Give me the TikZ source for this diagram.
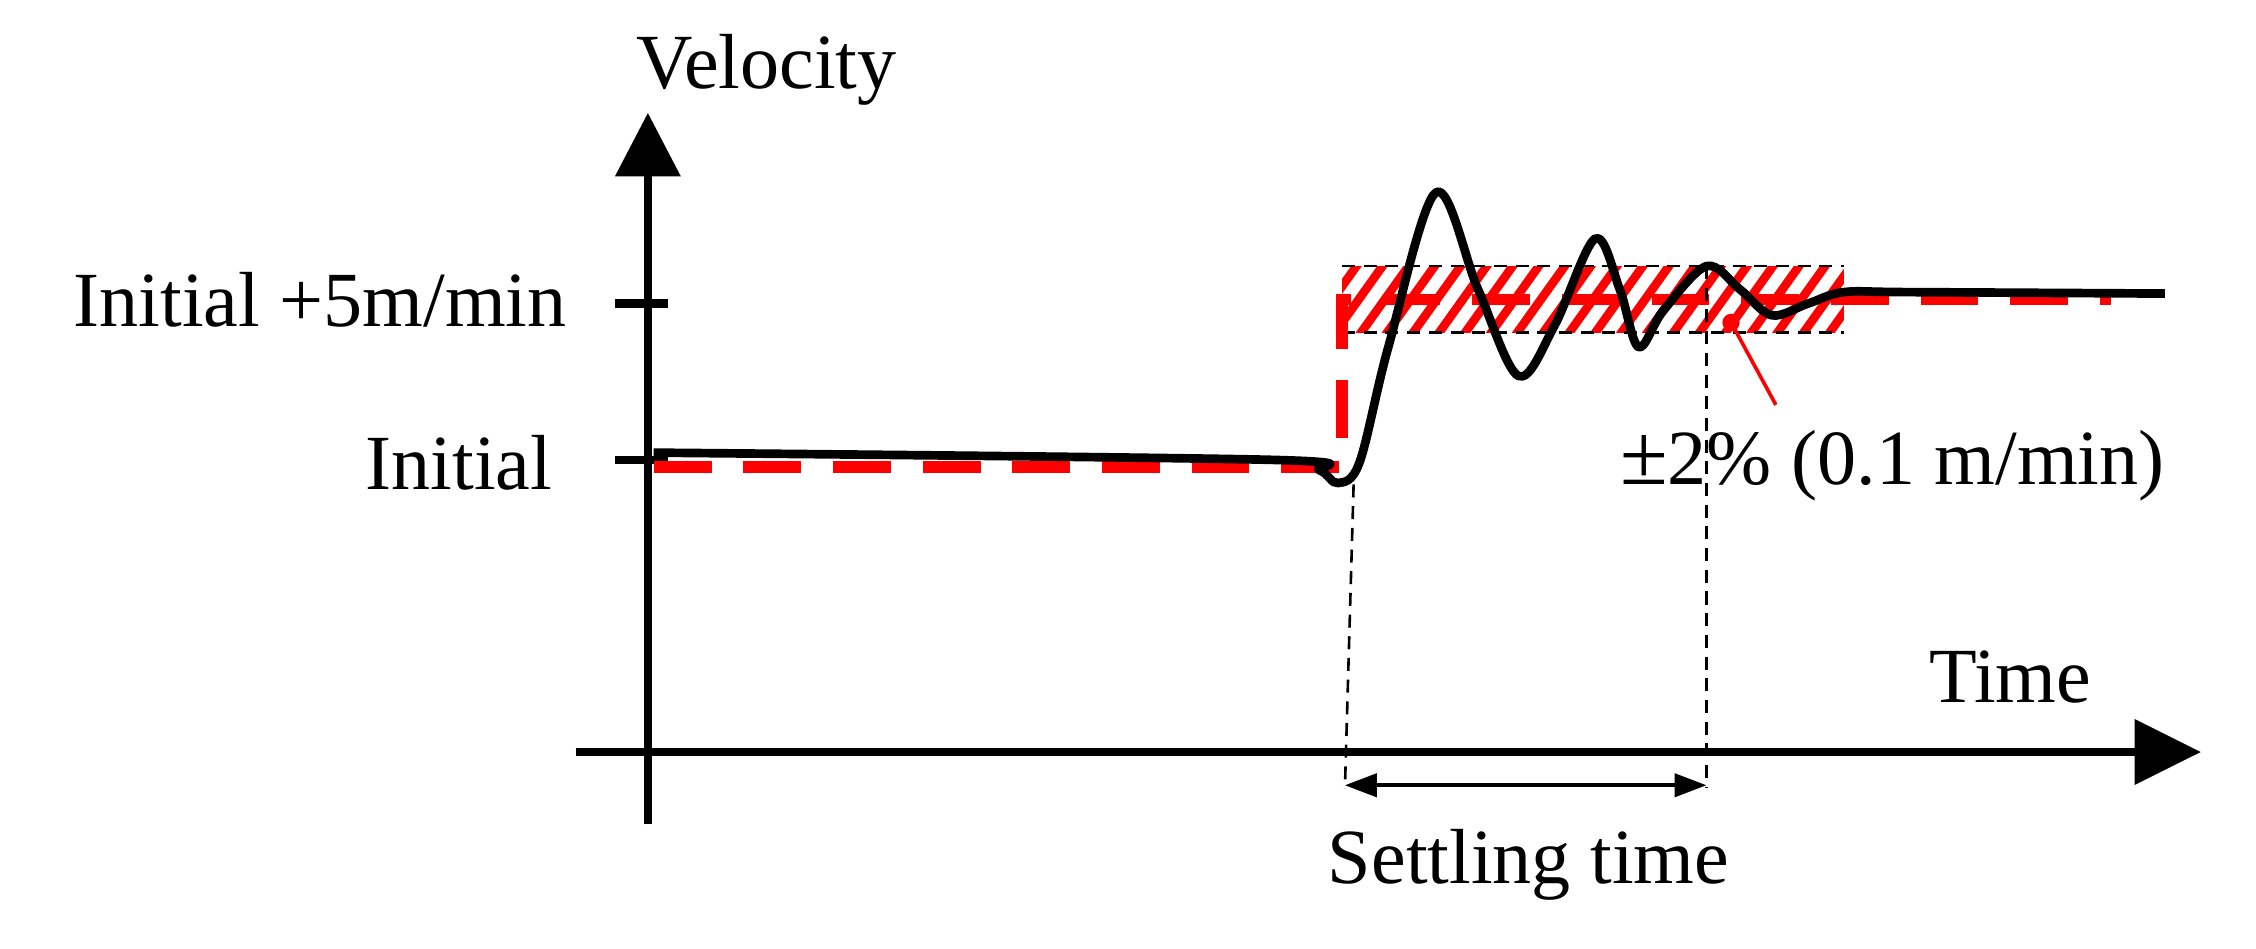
\documentclass[tikz,border=0pt]{standalone}
\usepackage{fontspec}
\setmainfont{Liberation Serif}
\usetikzlibrary{arrows.meta}
\begin{document}
\begin{tikzpicture}[x=1pt,y=-1pt,
 lbl/.style={font=\fontsize{54}{60}\selectfont,inner sep=0pt},
 ax/.style={line width=6pt},
 thindash/.style={line width=1.8pt,dash pattern=on 9pt off 6pt},
 reddash/.style={red,line width=8pt,dash pattern=on 40pt off 22pt}]
\useasboundingbox (0,0) rectangle (1560,656);
% axes
\coordinate (yb) at (448,570); \coordinate (yt) at (448,78);
\coordinate (xl) at (398,520); \coordinate (xr) at (1522,520);
\draw[ax,-{Triangle[width=44pt,length=44pt]}] (yb) -- (yt);
\draw[ax,-{Triangle[width=44pt,length=46pt]}] (xl) -- (xr);
\draw[ax] (425,210) -- (462,210);
\draw[ax] (425,318) -- (462,318);
\node[lbl] (vel) at (530,48) {Velocity};
\node[lbl,anchor=east] (i5) at (392,207) {Initial +5m/min};
\node[lbl,anchor=east] (i0) at (382,320) {Initial};
\node[lbl] (time) at (1390,468) {Time};
\node[lbl] (st) at (1057,598) {Settling time};
\node[lbl,anchor=east] (pm) at (1497,322) {{\fontsize{60}{60}\selectfont ±}2\% (0.1 m/min)};
% band
\begin{scope}
\clip (928,184) rectangle (1275,230);
\foreach \i in {0,...,25} {\draw[red,line width=6pt] (880+\i*18,240) -- (930+\i*18,170);}
\end{scope}
\draw[thindash] (928,184) -- (1275,184);
\draw[thindash] (928,230) -- (1275,230);
% red reference
\draw[reddash] (452,323) -- (928,323) -- (928,207) -- (1460,207);
% response
\draw[line width=6pt,line join=round] plot[smooth,tension=0.55] coordinates {
(452,313) (880,318) (912,325) (925,334) (940,320) (960,240) (993,133) (1022,200) (1050,260) (1075,225) (1103,165) (1120,200) (1133,240) (1150,215) (1180,184) (1203,200) (1225,218) (1250,210) (1275,202) (1320,202) (1497,203)};
% settling lines
\coordinate (s1) at (930,545); \coordinate (s2) at (1180,545);
\draw[thindash] (936,335) -- (s1);
\draw[thindash] (1180,184) -- (s2);
\draw[line width=2.5pt,{Triangle[width=16pt,length=22pt]}-{Triangle[width=16pt,length=22pt]}] (930,543) -- (1180,543);
% marker
\coordinate (m) at (1197,223);
\fill[red] (m) circle (6pt);
\draw[red,line width=2.5pt] (m) -- (1228,280);
\end{tikzpicture}
\end{document}
